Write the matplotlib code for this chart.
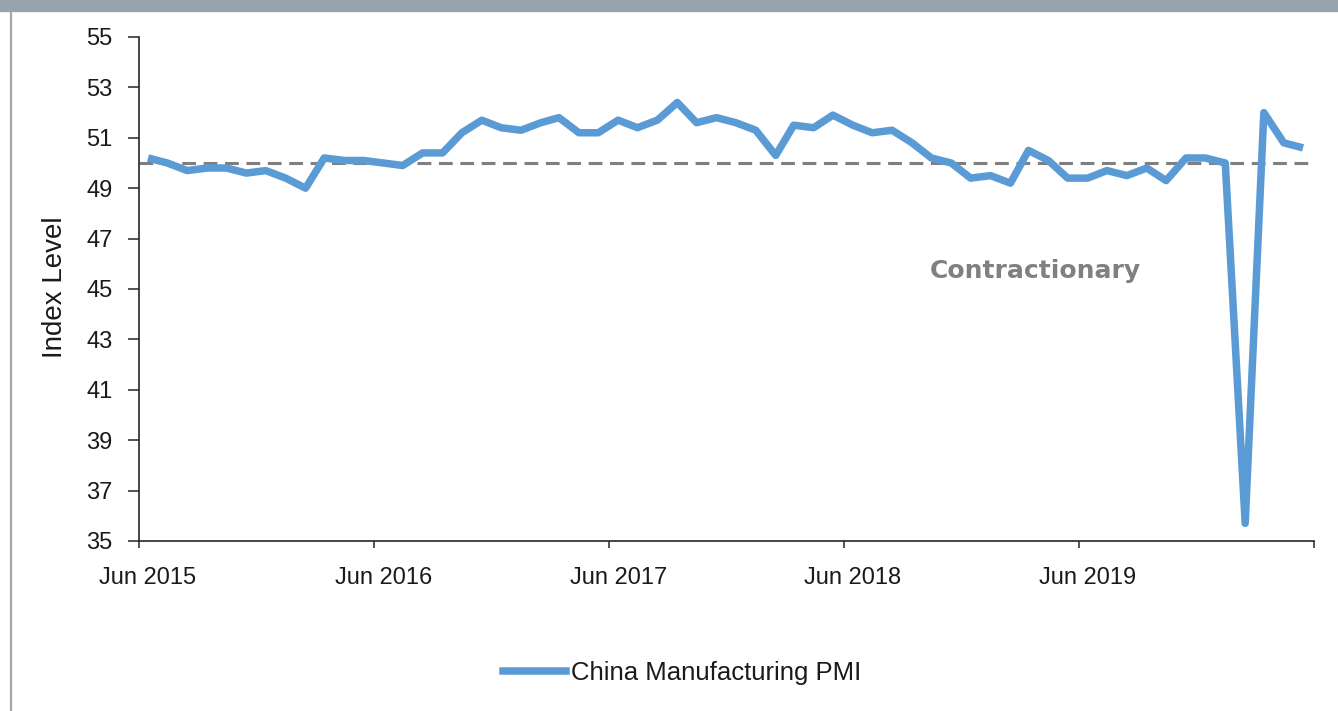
import pandas as pd
import matplotlib
matplotlib.use("Agg")
import matplotlib.pyplot as plt
from matplotlib.patches import Rectangle
from matplotlib.lines import Line2D
from matplotlib.transforms import ScaledTranslation

# monthly China manufacturing PMI, Jun 2015 - May 2020
months = pd.date_range("2015-06-01", "2020-05-01", freq="MS") + pd.Timedelta(days=14)
pmi = [50.2, 50.0, 49.7, 49.8, 49.8, 49.6, 49.7,
       49.4, 49.0, 50.2, 50.1, 50.1, 50.0, 49.9, 50.4, 50.4, 51.2, 51.7, 51.4,
       51.3, 51.6, 51.8, 51.2, 51.2, 51.7, 51.4, 51.7, 52.4, 51.6, 51.8, 51.6,
       51.3, 50.3, 51.5, 51.4, 51.9, 51.5, 51.2, 51.3, 50.8, 50.2, 50.0, 49.4,
       49.5, 49.2, 50.5, 50.1, 49.4, 49.4, 49.7, 49.5, 49.8, 49.3, 50.2, 50.2,
       50.0, 35.7, 52.0, 50.8, 50.6]
threshold = 50
tick_dates = pd.date_range("2015-06-01", "2020-06-01", freq="12MS")
tick_labels = ["Jun 2015", "Jun 2016", "Jun 2017", "Jun 2018", "Jun 2019", ""]
y_ticks = list(range(35, 56, 2))

plt.rcParams["font.family"] = ["Liberation Sans", "DejaVu Sans"]

fig = plt.figure(figsize=(13.38, 7.11), dpi=100)
ax = fig.add_axes([139 / 1338, 1 - 541 / 711, 1175 / 1338, 504 / 711])

blue = "#5B9BD5"
ax.plot(months, pmi, color=blue, lw=5.4, solid_joinstyle="round",
        solid_capstyle="butt", zorder=3)
ax.axhline(threshold, color="#7F7F7F", lw=2.2, ls=(0, (4.5, 2.5)), zorder=2)

ax.set_xlim(tick_dates[0], tick_dates[-1])
ax.set_ylim(35, 55)
ax.set_yticks(y_ticks)
ax.set_xticks(tick_dates)
ax.set_xticklabels(tick_labels)

for s in ["top", "right"]:
    ax.spines[s].set_visible(False)
for s in ["left", "bottom"]:
    ax.spines[s].set_color("#262626")
    ax.spines[s].set_linewidth(1.2)

ax.tick_params(axis="y", length=8, width=1.1, color="#262626", pad=11,
               labelsize=17, labelcolor="#1a1a1a")
ax.tick_params(axis="x", length=5, width=1.1, color="#262626", pad=14,
               labelsize=17, labelcolor="#1a1a1a")

# date labels sit a little right of their ticks, like in the original
shift = ScaledTranslation(0.09, 0, fig.dpi_scale_trans)
for lbl in ax.get_xticklabels():
    lbl.set_transform(lbl.get_transform() + shift)

ax.set_ylabel("Index Level", fontsize=20, color="#1a1a1a")
ax.yaxis.set_label_coords((68 - 139) / 1175, 0.504)

ax.text(0.7626, 0.5357, "Contractionary", transform=ax.transAxes,
        ha="center", va="center", fontsize=18, fontweight="bold",
        color="#808080", family="DejaVu Sans")

handle = Line2D([], [], color=blue, lw=5.4)
fig.legend([handle], ["China Manufacturing PMI"], loc="center",
           bbox_to_anchor=(0.51, 0.0534), frameon=False, fontsize=18.5,
           handlelength=2.45, handletextpad=0.2, labelcolor="#1a1a1a")

# frame bits around the chart area
fig.patches.append(Rectangle((0, 1 - 11 / 711), 1, 11 / 711,
                             transform=fig.transFigure, color="#98A3AD",
                             zorder=0))
fig.lines.append(Line2D([11 / 1338, 11 / 1338], [0, 1 - 11 / 711],
                        transform=fig.transFigure, color="#A6A6A6", lw=1.6))

fig.savefig("out.png", dpi=100)
